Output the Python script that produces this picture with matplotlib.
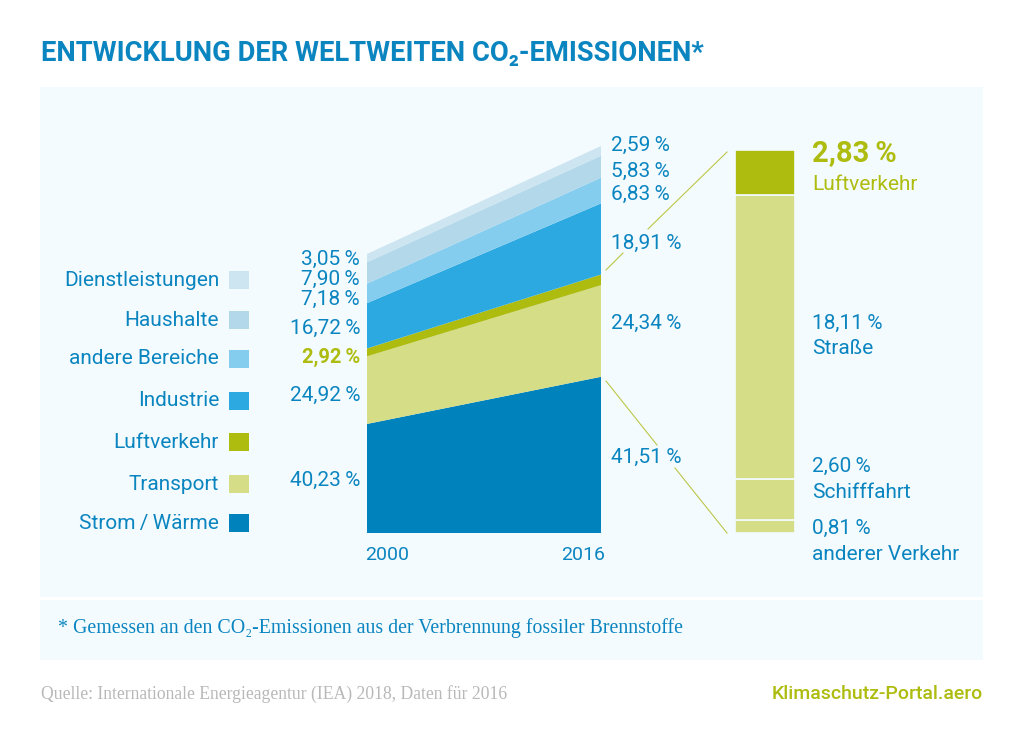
import matplotlib
matplotlib.use('Agg')
import matplotlib.pyplot as plt
from matplotlib.patches import Rectangle
from matplotlib.transforms import ScaledTranslation

W, H = 1024, 741
BLUE = '#0b85c0'
OLIVE = '#adbc0f'
PANEL = '#f4fbfe'
SANS = ['Roboto', 'DejaVu Sans']
SERIF = ['Liberation Serif', 'DejaVu Serif']

# data
years = [2000, 2016]
categories = ['Strom\u2009/\u2009Wärme', 'Transport', 'Luftverkehr', 'Industrie',
              'andere Bereiche', 'Haushalte', 'Dienstleistungen']
shares_2000 = [40.23, 24.92, 2.92, 16.72, 7.18, 7.90, 3.05]
shares_2016 = [41.51, 24.34, 2.83, 18.91, 6.83, 5.83, 2.59]
# total emissions relative to 2000, read from the height of the areas
total_index = [1.0, 1.388]
colors = ['#0083bc', '#d5dd87', '#adbc0f', '#2da9e1', '#85cdee', '#b2d8ea', '#cce5f1']

transport_parts = ['anderer Verkehr', 'Schifffahrt', 'Straße', 'Luftverkehr']
transport_values = [0.81, 2.60, 18.11, 2.83]
transport_colors = ['#d5dd87', '#d5dd87', '#d5dd87', '#adbc0f']


def pct(v):
    return f'{v:.2f}'.replace('.', ',') + '\u2009%'


def axes_px(fig, left, top, right, bottom):
    return fig.add_axes([left / W, 1 - bottom / H, (right - left) / W, (bottom - top) / H])


fig = plt.figure(figsize=(W / 100, H / 100), dpi=100, facecolor='white')

# page layer in pixel coordinates for panels, text and connector lines
page = fig.add_axes([0, 0, 1, 1])
page.set_xlim(0, W)
page.set_ylim(H, 0)
page.axis('off')
page.add_patch(Rectangle((40, 87), 943, 510, color=PANEL, lw=0))
page.add_patch(Rectangle((40, 600), 943, 60, color=PANEL, lw=0))

page.text(41, 53, 'ENTWICKLUNG DER WELTWEITEN CO\u2082-EMISSIONEN*', family=SANS, weight='bold',
          fontsize=19.7, color=BLUE, va='center', ha='left')
page.text(58, 628, '* Gemessen an den CO\u2082-Emissionen aus der Verbrennung fossiler Brennstoffe',
          family=SERIF, fontsize=14.3, color=BLUE, va='center', ha='left')
page.text(41, 694, 'Quelle: Internationale Energieagentur (IEA) 2018, Daten für 2016',
          family=SERIF, fontsize=12.7, color='#b8b8b8', va='center', ha='left')
page.text(983, 694, 'Klimaschutz-Portal.aero', family=SANS, weight='medium',
          fontsize=14, color=OLIVE, va='center', ha='right')

# stacked areas
ax = axes_px(fig, 367, 146, 601, 533)
series = [[a * total_index[0], b * total_index[1]] for a, b in zip(shares_2000, shares_2016)]
ax.stackplot(years, series, colors=colors, lw=0)
ax.set_xlim(years[0], years[1])
ax.set_ylim(0, sum(shares_2016) * total_index[1])
ax.patch.set_alpha(0)
for s in ax.spines.values():
    s.set_visible(False)
ax.set_yticks([])
ax.set_xticks(years)
ax.set_xticklabels([str(y) for y in years], family=SANS, fontsize=14, color=BLUE)
ax.tick_params(axis='x', length=0, pad=9)
# year labels sit just past the area edges
for lab, ha, dx in zip(ax.get_xticklabels(), ['left', 'right'], [-2, 4]):
    lab.set_ha(ha)
    lab.set_transform(lab.get_transform() + ScaledTranslation(dx / 100, 0, fig.dpi_scale_trans))

# value labels next to the areas
left_y = [480, 395, 357, 328, 299, 279, 259]
right_y = [457, 323, 275, 243, 194, 171, 145]
for i, v in enumerate(shares_2000):
    bold = categories[i] == 'Luftverkehr'
    page.text(360, left_y[i], pct(v), family=SANS, fontsize=15 if not bold else 14.5, ha='right',
              va='center', color=OLIVE if bold else BLUE, weight='bold' if bold else 'normal')
for i, v in enumerate(shares_2016):
    if categories[i] == 'Luftverkehr':
        continue
    page.text(611, right_y[i], pct(v), family=SANS, fontsize=15, ha='left', va='center', color=BLUE)

# legend
legend_y = [523, 484, 442, 401, 359, 320, 280]
for name, c, y in zip(categories, colors, legend_y):
    page.text(219, y, name, family=SANS, fontsize=15, ha='right', va='center', color=BLUE)
    page.add_patch(Rectangle((229, y - 9), 20, 18, color=c, lw=0))

# transport breakdown bar
bx = axes_px(fig, 735, 150, 795, 533)
bottom = 0
for v, c in zip(transport_values, transport_colors):
    bx.bar(0, v, width=1, bottom=bottom, color=c, edgecolor=PANEL, linewidth=1.2)
    bottom += v
bx.set_xlim(-0.5, 0.5)
bx.set_ylim(0, sum(transport_values))
bx.axis('off')

part_y = [(528, 554), (466, 492), (323, 349), (153, 184)]
for name, v, (y1, y2) in zip(transport_parts, transport_values, part_y):
    top = name == 'Luftverkehr'
    page.text(812, y1, pct(v), family=SANS, ha='left', va='center',
              fontsize=21 if top else 15, weight='bold' if top else 'normal',
              color=OLIVE if top else BLUE)
    page.text(812, y2, name, family=SANS, fontsize=15, ha='left', va='center',
              color=OLIVE if top else BLUE)

# connector lines, broken around the value labels
connectors = [((606, 270), (623, 253)), ((648, 229), (727, 152)),
              ((606, 381), (657, 445)), ((675, 468), (727, 533))]
for (x0, y0), (x1, y1) in connectors:
    page.plot([x0, x1], [y0, y1], color='#bcc748', lw=0.8)

plt.savefig('out.png', dpi=100)
